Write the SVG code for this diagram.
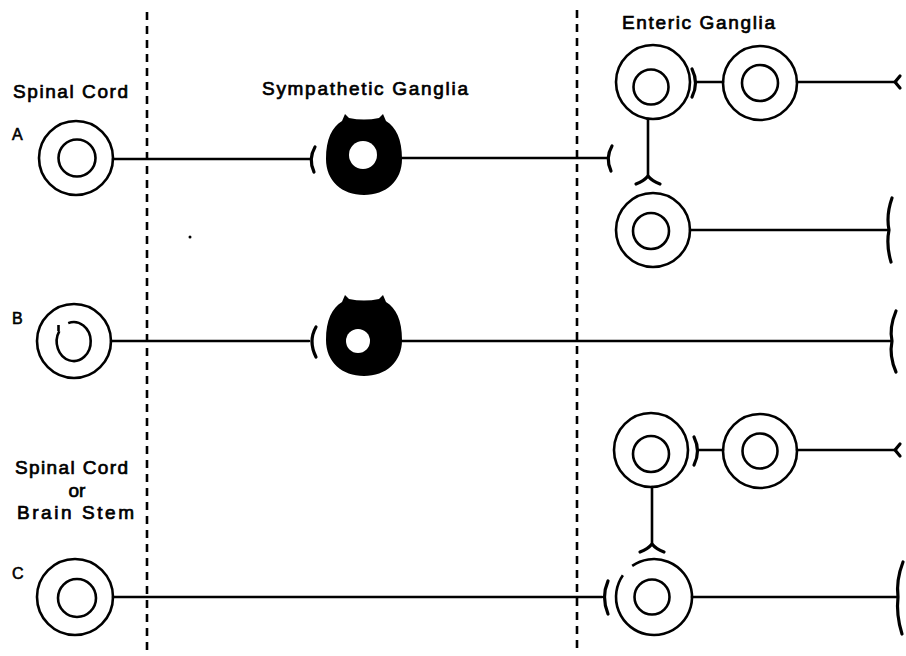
<svg xmlns="http://www.w3.org/2000/svg" width="906" height="656" viewBox="0 0 906 656">
  <style>
    .bg { fill: #ffffff; }
    .cell { fill: none; stroke: #000; stroke-width: 2.6; }
    .axon { fill: none; stroke: #000; stroke-width: 2.6; stroke-linecap: round; stroke-linejoin: round; }
    .syn { fill: none; stroke: #000; stroke-width: 3.2; stroke-linecap: round; stroke-linejoin: round; }
    .divider { fill: none; stroke: #000; stroke-width: 2.6; stroke-dasharray: 8 6; }
    .soma { fill: #000; stroke: none; }
    .nucleus { fill: #fff; stroke: none; }
    .lbl { font-family: "Liberation Sans", Arial, sans-serif; font-size: 19px; fill: #000; stroke: #000; stroke-width: 0.7; }
    .row { font-family: "Liberation Sans", Arial, sans-serif; font-size: 16px; fill: #000; stroke: #000; stroke-width: 0.6; }
  </style>
  <defs>
    <!-- sympathetic ganglion cell body: dark soma with two small dendritic points on top -->
    <path id="ganglionBody" d="M -38 2 C -38 -18 -32 -30 -22 -36 L -19 -43 L -15 -39 Q 0 -36 15 -39 L 19 -43 L 22 -36 C 32 -30 38 -18 38 2 C 38 24 22 38 0 38 C -22 38 -38 24 -38 2 Z"/>
  </defs>

  <rect class="bg" x="0" y="0" width="906" height="656"/>

  <!-- region boundaries -->
  <g id="boundaries">
    <line class="divider" x1="147" y1="12" x2="147" y2="650"/>
    <line class="divider" x1="577" y1="10" x2="577" y2="650"/>
  </g>

  <!-- headings -->
  <g id="headings">
    <text class="lbl" x="13" y="98" textLength="115" lengthAdjust="spacing">Spinal Cord</text>
    <text class="lbl" x="262" y="95" textLength="206" lengthAdjust="spacing">Sympathetic Ganglia</text>
    <text class="lbl" x="622" y="29" textLength="153" lengthAdjust="spacing">Enteric Ganglia</text>
    <text class="lbl" x="15" y="474" textLength="113" lengthAdjust="spacing">Spinal Cord</text>
    <text class="lbl" x="77" y="497" text-anchor="middle">or</text>
    <text class="lbl" x="17" y="519" textLength="117" lengthAdjust="spacing">Brain Stem</text>
    <text class="row" x="12" y="140">A</text>
    <text class="row" x="12" y="324">B</text>
    <text class="row" x="12" y="579">C</text>
    <circle cx="190" cy="237" r="1.5" fill="#000"/>
  </g>

  <!-- Row A -->
  <g id="a-spinal">
    <circle class="cell" cx="76" cy="158" r="37"/>
    <circle class="cell" cx="77" cy="158" r="18.5"/>
  </g>
  <g id="a-sympathetic">
    <use href="#ganglionBody" class="soma" x="364" y="157"/>
    <circle class="nucleus" cx="363" cy="155" r="14"/>
  </g>
  <g id="a-enteric-1">
    <circle class="cell" cx="653" cy="82" r="37"/>
    <circle class="cell" cx="651" cy="87" r="17.5"/>
  </g>
  <g id="a-enteric-2">
    <circle class="cell" cx="760" cy="83" r="37"/>
    <circle class="cell" cx="760" cy="83" r="18"/>
  </g>
  <g id="a-enteric-3">
    <circle class="cell" cx="653" cy="230" r="37"/>
    <circle class="cell" cx="651" cy="231" r="18"/>
  </g>

  <!-- Row B -->
  <g id="b-spinal">
    <circle class="cell" cx="74" cy="341" r="37"/>
    <path class="cell" d="M 68.2 323.1 A 17 19.5 0 1 1 59.3 331.2"/>
    <line class="cell" x1="58.5" y1="325" x2="58.5" y2="331"/>
  </g>
  <g id="b-sympathetic">
    <use href="#ganglionBody" class="soma" x="364" y="338"/>
    <circle class="nucleus" cx="358" cy="341" r="12"/>
  </g>

  <!-- Row C -->
  <g id="c-spinal">
    <circle class="cell" cx="75" cy="597" r="38"/>
    <circle class="cell" cx="77" cy="598" r="19"/>
  </g>
  <g id="c-enteric-1">
    <circle class="cell" cx="651" cy="450" r="37"/>
    <circle class="cell" cx="651" cy="454" r="18"/>
  </g>
  <g id="c-enteric-2">
    <circle class="cell" cx="760" cy="451" r="37"/>
    <circle class="cell" cx="760" cy="451" r="17.5"/>
  </g>
  <g id="c-enteric-3">
    <path class="cell" d="M 632.2 565.9 A 38 38 0 1 1 622.9 575.2"/>
    <circle class="cell" cx="652" cy="597" r="17.5"/>
  </g>

  <!-- axons and synaptic terminals -->
  <g id="connectors">
    <!-- A: preganglionic fibre to sympathetic ganglion -->
    <line class="axon" x1="113" y1="159" x2="310" y2="159"/>
    <path class="syn" d="M 315 147 Q 308 159 314 172"/>
    <!-- A: postganglionic fibre to enteric ganglia -->
    <line class="axon" x1="401" y1="158" x2="607" y2="158"/>
    <path class="syn" d="M 612 146 Q 605 158 611 171"/>
    <!-- A: enteric interneurons -->
    <path class="syn" d="M 692 69 Q 699 83 692 97"/>
    <line class="axon" x1="696" y1="82" x2="723" y2="82"/>
    <line class="axon" x1="797" y1="82" x2="896" y2="82"/>
    <path class="syn" d="M 900 76 L 895 82 L 900 88"/>
    <line class="axon" x1="648" y1="119" x2="648" y2="176"/>
    <path class="syn" d="M 636 184 Q 644 181 648 176 Q 652 181 660 184"/>
    <line class="axon" x1="690" y1="230" x2="888" y2="230"/>
    <path class="syn" d="M 892 198 Q 886 215 889 230 Q 886 245 891 262"/>

    <!-- B: preganglionic fibre -->
    <line class="axon" x1="111" y1="341" x2="309" y2="341"/>
    <path class="syn" d="M 316 327 Q 308 341 316 357"/>
    <!-- B: postganglionic fibre direct to effector -->
    <line class="axon" x1="402" y1="341" x2="891" y2="341"/>
    <path class="syn" d="M 896 311 Q 889 328 892 341 Q 889 356 896 372"/>

    <!-- C: preganglionic fibre to enteric ganglion -->
    <line class="axon" x1="113" y1="597" x2="602" y2="597"/>
    <path class="syn" d="M 608 581 Q 601 597 608 614"/>
    <!-- C: enteric interneurons -->
    <path class="syn" d="M 694 437 Q 701 451 694 465"/>
    <line class="axon" x1="698" y1="450" x2="723" y2="450"/>
    <line class="axon" x1="797" y1="450" x2="896" y2="450"/>
    <path class="syn" d="M 900 444 L 895 450 L 900 456"/>
    <line class="axon" x1="652" y1="487" x2="652" y2="544"/>
    <path class="syn" d="M 640 552 Q 648 549 652 544 Q 656 549 664 552"/>
    <line class="axon" x1="692" y1="597" x2="897" y2="597"/>
    <path class="syn" d="M 903 562 Q 896 580 898 597 Q 896 615 902 634"/>
  </g>
</svg>
